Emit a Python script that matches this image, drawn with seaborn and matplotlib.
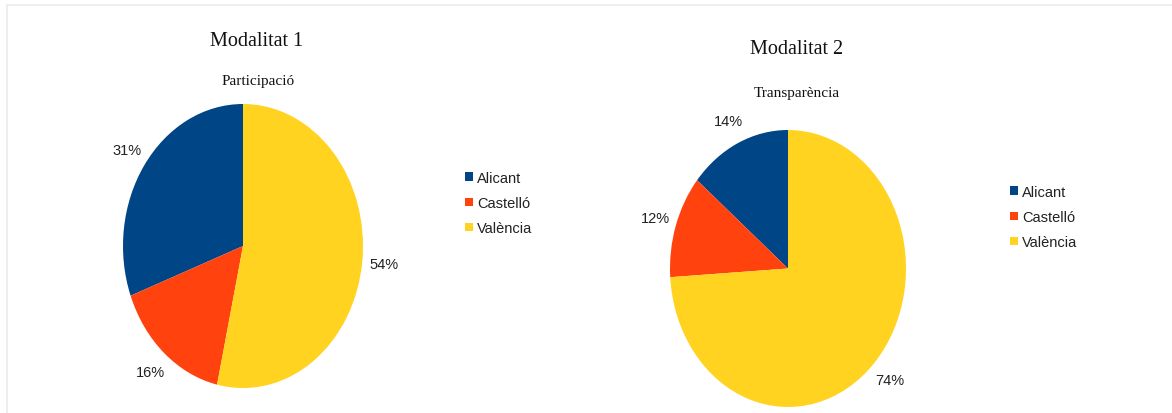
import matplotlib
matplotlib.use("Agg")
import matplotlib.pyplot as plt
import seaborn as sns
from matplotlib.patches import Patch
from matplotlib.lines import Line2D

# ---- data ----
categories = ["Alicant", "Castelló", "València"]
mod1_values = [31, 16, 54]
mod2_values = [14, 12, 74]
titles = ["Modalitat 1", "Modalitat 2"]
subtitles = ["Participació", "Transparència"]
colors = ["#004586", "#ff420e", "#ffd320"]

sns.set_theme(style="white")
plt.rcParams["font.family"] = ["Liberation Sans", "DejaVu Sans"]
palette = sns.color_palette(colors)

W, H = 1172, 414
fig = plt.figure(figsize=(W / 100, H / 100), dpi=100)
fig.patch.set_facecolor("white")


def fx(px):
    return px / W


def fy(py):
    return 1 - py / H


def pct_fmt(total):
    return lambda p: f"{round(p * total / 100):d}%"


panels = [
    dict(vals=mod1_values, box=(123, 105, 363, 389), title=(257, 41), sub=(258, 82),
         leg=(465, 172)),
    dict(vals=mod2_values, box=(670, 131, 906, 408), title=(797, 50), sub=(797, 93),
         leg=(1010, 186)),
]

for i, p in enumerate(panels):
    x0, y0, x1, y1 = p["box"]
    ax = fig.add_axes([fx(x0), fy(y1), fx(x1 - x0), (y1 - y0) / H])
    wedges, _, autotexts = ax.pie(
        p["vals"], colors=palette, startangle=90, counterclock=True,
        autopct=pct_fmt(sum(p["vals"])), pctdistance=1.18,
        wedgeprops=dict(linewidth=0),
        textprops=dict(fontsize=10.5, color="#222222"),
    )
    ax.set_aspect("auto")
    ax.set_xlim(-1, 1)
    ax.set_ylim(-1, 1)
    ax.axis("off")

    fig.text(fx(p["title"][0]), fy(p["title"][1]), titles[i], ha="center", va="center",
             fontsize=14.5, family=["Liberation Serif", "DejaVu Serif"], color="#111111")
    fig.text(fx(p["sub"][0]), fy(p["sub"][1]), subtitles[i], ha="center", va="center",
             fontsize=11, family=["Liberation Serif", "DejaVu Serif"], color="#111111")

    handles = [Patch(facecolor=c, edgecolor="none") for c in palette]
    fig.legend(handles, categories, loc="upper left",
               bbox_to_anchor=(fx(p["leg"][0]), fy(p["leg"][1])),
               frameon=False, fontsize=10.5, borderpad=0, borderaxespad=0,
               handlelength=0.55, handleheight=0.55, handletextpad=0.3,
               labelspacing=0.76, labelcolor="#222222")

# faint outer frame lines
fig.add_artist(Line2D([fx(7), 1], [fy(6), fy(6)], color="#ebebeb", lw=1.2,
                      transform=fig.transFigure))
fig.add_artist(Line2D([fx(7), fx(7)], [fy(6), 0], color="#ebebeb", lw=1.2,
                      transform=fig.transFigure))

fig.savefig("out.png", dpi=100, facecolor="white")
